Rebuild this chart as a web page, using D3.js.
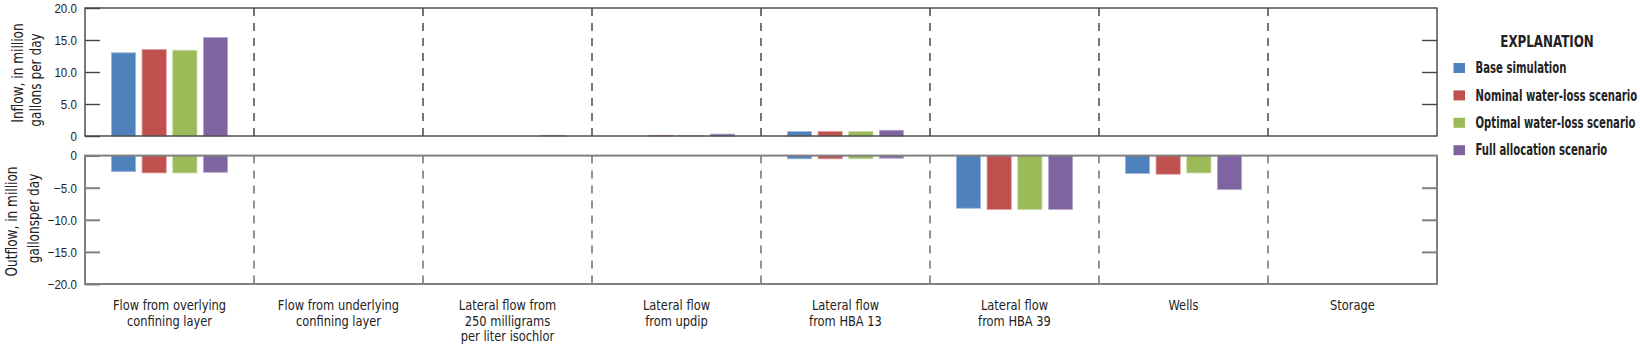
<!DOCTYPE html>
<html>
<head>
<meta charset="utf-8">
<script src="https://cdn.jsdelivr.net/npm/d3@7"></script>
<style>
  html, body { margin: 0; padding: 0; background: #fff; }
  svg { display: block; font-family: "Liberation Sans Narrow", "Arial Narrow", "DejaVu Sans Condensed", sans-serif; }
</style>
</head>
<body>
<svg id="chart" width="1640" height="347"></svg>
<script>
// Budget components along the x axis
const categories = [
  ["Flow from overlying", "confining layer"],
  ["Flow from underlying", "confining layer"],
  ["Lateral flow from", "250 milligrams", "per liter isochlor"],
  ["Lateral flow", "from updip"],
  ["Lateral flow", "from HBA 13"],
  ["Lateral flow", "from HBA 39"],
  ["Wells"],
  ["Storage"]
];

const seriesNames = [
  "Base simulation",
  "Nominal water-loss scenario",
  "Optimal water-loss scenario",
  "Full allocation scenario"
];
const seriesColors = ["#4f81bd", "#c0504d", "#9bbb59", "#8064a2"];

// Inflow, in million gallons per day
const inflowBase     = [13.0, 0, 0,   0,   0.7, 0, 0, 0];
const inflowNominal  = [13.5, 0, 0,   0.1, 0.7, 0, 0, 0];
const inflowOptimal  = [13.4, 0, 0,   0.1, 0.7, 0, 0, 0];
const inflowFull     = [15.4, 0, 0.1, 0.3, 0.9, 0, 0, 0];

// Outflow, in million gallons per day
const outflowBase    = [-2.5, 0, 0, 0, -0.5, -8.2, -2.8, 0];
const outflowNominal = [-2.7, 0, 0, 0, -0.5, -8.4, -2.9, 0];
const outflowOptimal = [-2.7, 0, 0, 0, -0.5, -8.4, -2.7, 0];
const outflowFull    = [-2.6, 0, 0, 0, -0.4, -8.4, -5.3, 0];

const inflowTicks  = [0, 5, 10, 15, 20];
const outflowTicks = [0, -5, -10, -15, -20];

const inflowSeries  = [inflowBase, inflowNominal, inflowOptimal, inflowFull];
const outflowSeries = [outflowBase, outflowNominal, outflowOptimal, outflowFull];

const svg = d3.select("#chart");
const left = 85, right = 1437;
const upper = { top: 8, bottom: 136 };
const lower = { top: 155.6, bottom: 284 };

const x = d3.scaleBand().domain(d3.range(categories.length)).range([left, right]).padding(0);
const xs = d3.scaleBand().domain(d3.range(seriesNames.length)).range([0, x.bandwidth()])
  .paddingInner(0.21).paddingOuter(0.86);

const yIn = d3.scaleLinear().domain([0, 20]).range([upper.bottom, upper.top]);
const yOut = d3.scaleLinear().domain([-20, 0]).range([lower.bottom, lower.top]);

const fmt = v => v === 0 ? "0" : d3.format(".1f")(v).replace("-", "\u2212");

function lighten(c) { return d3.interpolateRgb(c, "#ffffff")(0.45); }

// Condensed text: placed at (x, y) and squeezed horizontally by sx
function condensedText(g, x, y, str, sx, anchor) {
  return g.append("text")
    .attr("transform", `translate(${x},${y}) scale(${sx},1)`)
    .attr("text-anchor", anchor)
    .attr("dy", "0.35em")
    .text(str);
}

// Bars
function drawBars(seriesList, y, cls) {
  const g = svg.append("g").attr("class", cls);
  seriesList.forEach((vals, si) => {
    g.selectAll(null)
      .data(vals.map((v, ci) => ({ v, ci })).filter(d => d.v !== 0))
      .join("rect")
      .attr("x", d => x(d.ci) + xs(si))
      .attr("width", xs.bandwidth())
      .attr("y", d => Math.min(y(d.v), y(0)))
      .attr("height", d => Math.abs(y(d.v) - y(0)))
      .attr("fill", seriesColors[si])
      .attr("stroke", lighten(seriesColors[si]))
      .attr("stroke-width", 0.8);
  });
}
drawBars(inflowSeries, yIn, "inflow-bars");
drawBars(outflowSeries, yOut, "outflow-bars");

// Category separators
const sepG = svg.append("g").attr("class", "separators");
d3.range(1, categories.length).forEach(i => {
  [[upper.top, upper.bottom, "#555"], [lower.top, lower.bottom, "#777"]].forEach(([t, b, c]) => {
    sepG.append("line")
      .attr("x1", x(i)).attr("x2", x(i))
      .attr("y1", t).attr("y2", b)
      .attr("stroke", c).attr("stroke-width", 1.6)
      .attr("stroke-dasharray", "8,7");
  });
});

// Panel frames
svg.append("rect").attr("x", left).attr("y", upper.top)
  .attr("width", right - left).attr("height", upper.bottom - upper.top)
  .attr("fill", "none").attr("stroke", "#444").attr("stroke-width", 1.4);
svg.append("rect").attr("x", left).attr("y", lower.top)
  .attr("width", right - left).attr("height", lower.bottom - lower.top)
  .attr("fill", "none").attr("stroke", "#808080").attr("stroke-width", 2);

// Axes: inward ticks on both sides, labels squeezed like the rest of the text
function styleAxis(g, color, width) {
  g.select(".domain").remove();
  g.selectAll(".tick line").attr("stroke", color).attr("stroke-width", width);
  g.selectAll(".tick text").attr("fill", "#222").style("font-size", "13.5px")
    .attr("transform", function () {
      const tx = +d3.select(this).attr("x");
      d3.select(this).attr("x", 0);
      return `translate(${tx},0) scale(0.86,1)`;
    });
}
svg.append("g").attr("transform", `translate(${left},0)`)
  .call(d3.axisLeft(yIn).tickValues(inflowTicks).tickFormat(fmt).tickSize(-15).tickPadding(8))
  .call(g => styleAxis(g, "#444", 1.4));
svg.append("g").attr("transform", `translate(${right},0)`)
  .call(d3.axisRight(yIn).tickValues(inflowTicks.slice(1, -1)).tickFormat("").tickSize(-15))
  .call(g => styleAxis(g, "#444", 1.4));
svg.append("g").attr("transform", `translate(${left},0)`)
  .call(d3.axisLeft(yOut).tickValues(outflowTicks).tickFormat(fmt).tickSize(-15).tickPadding(8))
  .call(g => styleAxis(g, "#808080", 2));
svg.append("g").attr("transform", `translate(${right},0)`)
  .call(d3.axisRight(yOut).tickValues(outflowTicks.slice(1, -1)).tickFormat("").tickSize(-15))
  .call(g => styleAxis(g, "#808080", 2));

// Category labels
const labG = svg.append("g").attr("class", "category-labels")
  .style("font-size", "14px").attr("fill", "#222");
categories.forEach((lines, i) => {
  lines.forEach((line, li) => {
    condensedText(labG, x(i) + x.bandwidth() / 2, 305 + li * 15.7, line, 0.91, "middle");
  });
});

// Y-axis titles
const titles = [
  { text: "Inflow, in million", x: 17, y: 73 },
  { text: "gallons per day", x: 35, y: 80 },
  { text: "Outflow, in million", x: 11, y: 221.5 },
  { text: "gallonsper day", x: 33.5, y: 218.5 }
];
svg.append("g").attr("class", "axis-titles")
  .selectAll("text").data(titles).join("text")
  .attr("transform", d => `translate(${d.x},${d.y}) rotate(-90) scale(0.9,1.05)`)
  .attr("text-anchor", "middle").attr("dy", "0.35em")
  .style("font-size", "15px").attr("fill", "#222")
  .text(d => d.text);

// Legend
const leg = svg.append("g").attr("class", "legend").attr("fill", "#222");
condensedText(leg, 1547, 41.5, "EXPLANATION", 0.88, "middle")
  .style("font-size", "15px").style("font-weight", "bold");
seriesNames.forEach((name, i) => {
  const cy = 68 + i * 27.4;
  leg.append("rect").attr("x", 1453.5).attr("y", cy - 5).attr("width", 11.5).attr("height", 10)
    .attr("fill", seriesColors[i]);
  condensedText(leg, 1475.5, cy, name, 0.75, "start")
    .style("font-size", "15px").style("font-weight", "bold");
});
</script>
</body>
</html>
